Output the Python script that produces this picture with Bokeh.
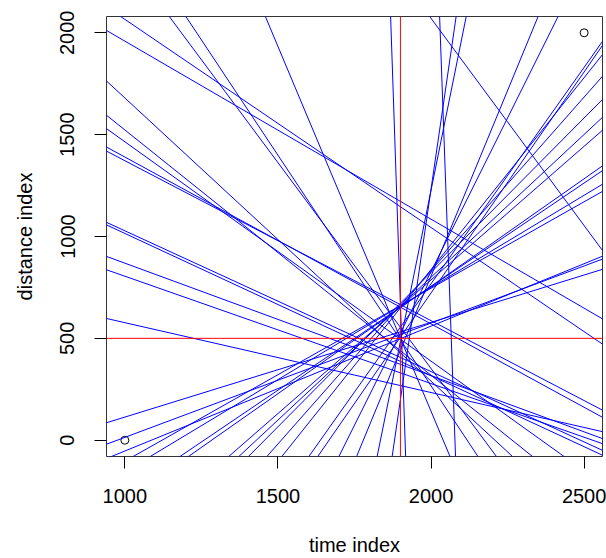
from bokeh.plotting import figure
from bokeh.models import Range1d, FixedTicker, Span, ColumnDataSource
from bokeh.embed import file_html
from bokeh.resources import INLINE

# ---- data -------------------------------------------------------------
# straight lines y = intercept + slope * x (as drawn with abline)
slopes = [-0.874, -1.022, -1.390, -1.204, -1.077, -0.819, -0.785, -0.691, -0.698,
          -0.552, -0.527, -0.343, -2.021, -2.264, -3.582, -44.08, -2.035, -41.54,
          0.465, 0.561, 0.613, 0.849, 0.905, 1.017, 1.055, 1.312, 1.402,
          1.516, 1.703, 1.884, 2.125, 2.170, 3.017, 3.643, 7.423, 10.335]
intercepts = [2833, 3088, 3070, 2727, 2542, 2209, 2157, 1719, 1713,
              1421, 1332, 920, 4394, 4795, 7306, 84421, 6141, 86323,
              -351.5, -547, -666, -952, -1060, -1280, -1354, -1837, -2004,
              -2208, -2573, -2930, -3482, -3617, -5206, -6480, -13619, -19437]
point_x = [1000, 2500]
point_y = [0, 2000]
vline_x = 1900
hline_y = 500
x_ticks = [1000, 1500, 2000, 2500]
y_ticks = [0, 500, 1000, 1500, 2000]
x_lim = (940, 2560)
y_lim = (-80, 2080)

# ---- segments spanning beyond the plotting region ---------------------
x0s, y0s, x1s, y1s = [], [], [], []
for b, a in zip(slopes, intercepts):
    if abs(b) <= 1:
        xa, xb = x_lim[0] - 200, x_lim[1] + 200
        x0s.append(xa); y0s.append(a + b * xa)
        x1s.append(xb); y1s.append(a + b * xb)
    else:
        ya, yb = y_lim[0] - 200, y_lim[1] + 200
        x0s.append((ya - a) / b); y0s.append(ya)
        x1s.append((yb - a) / b); y1s.append(yb)
seg = ColumnDataSource(dict(x0=x0s, y0=y0s, x1=x1s, y1=y1s))

FONT = "Liberation Sans"

p = figure(width=606, height=558,
           x_range=Range1d(*x_lim), y_range=Range1d(*y_lim),
           output_backend="svg", toolbar_location=None,
           min_border_left=106, min_border_right=4,
           min_border_top=16, min_border_bottom=101,
           background_fill_color="white", border_fill_color="white")
p.grid.visible = False
p.outline_line_color = "#333333"
p.outline_line_width = 1
p.outline_line_alpha = 1

p.scatter(point_x, point_y, size=8, marker="circle", fill_color=None,
          line_color="black", line_width=1)
p.segment(x0="x0", y0="y0", x1="x1", y1="y1", source=seg,
          line_color="#0000FF", line_width=1)
p.add_layout(Span(location=vline_x, dimension="height", line_color="#FF0000", line_width=1))
p.add_layout(Span(location=hline_y, dimension="width", line_color="#FF0000", line_width=1))

for ax in (p.xaxis[0], p.yaxis[0]):
    ax.axis_line_color = None
    ax.major_tick_line_color = "black"
    ax.major_tick_out = 12
    ax.major_tick_in = 0
    ax.minor_tick_line_color = None
    ax.major_label_text_font = FONT
    ax.major_label_text_font_size = "20px"
    ax.major_label_text_color = "black"
    ax.axis_label_text_font = FONT
    ax.axis_label_text_font_size = "20px"
    ax.axis_label_text_font_style = "normal"
    ax.axis_label_text_color = "black"

p.xaxis[0].ticker = FixedTicker(ticks=x_ticks)
p.yaxis[0].ticker = FixedTicker(ticks=y_ticks)
p.xaxis[0].axis_label = "time index"
p.yaxis[0].axis_label = "distance index"
p.xaxis[0].major_label_standoff = 20
p.xaxis[0].axis_label_standoff = 28
p.yaxis[0].major_label_orientation = "vertical"
p.yaxis[0].major_label_standoff = 20
p.yaxis[0].axis_label_standoff = 22

open("out.html", "w").write(file_html(p, INLINE))
